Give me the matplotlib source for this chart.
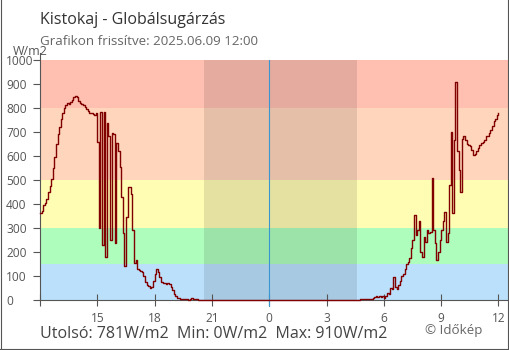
import matplotlib
matplotlib.use("Agg")
import matplotlib.pyplot as plt
from matplotlib.lines import Line2D

plt.rcParams['font.family'] = ['Open Sans', 'DejaVu Sans']

# --- data: global radiation, W/m2, 5-minute readings -----------------------
STEP_MIN = 5

afternoon_start = "12:00"
afternoon_wm2 = [
    362, 372, 395, 405, 420, 450, 475, 505, 550, 595, 650, 690,   # 12:00
    720, 755, 780, 800, 812, 820, 818, 826, 835, 845, 852, 845,   # 13:00
    830, 822, 818, 812, 805, 795, 786, 780, 778, 775, 770, 780,   # 14:00
    660, 300, 785, 229, 785, 180, 736, 685, 250, 694, 690, 236,   # 15:00
    653, 620, 556, 431, 278, 140, 347, 472, 470, 440, 292, 153,   # 16:00
    165, 130, 125, 120, 118, 100, 75, 62, 58, 50, 55, 78,         # 17:00
    110, 128, 115, 95, 76, 72, 70, 67, 70, 65, 55, 40,            # 18:00
    25, 15, 10, 8, 5, 4, 3, 3, 3, 2, 5, 10,                       # 19:00
    5, 3, 3, 2, 2, 1, 1, 0, 0,                                    # 20:00
]

morning_start = "04:40"
morning_wm2 = [
    2, 3, 3, 3,                                                   # 04:40
    3, 5, 6, 5, 6, 8, 12, 18, 14, 16, 14, 17,                     # 05:00
    10, 16, 31, 25, 50, 45, 97, 55, 45, 62, 80, 100,              # 06:00
    110, 128, 150, 160, 175, 215, 250, 354, 270, 290, 328, 200,   # 07:00
    181, 264, 240, 292, 280, 285, 507, 290, 236, 165, 201, 250,   # 08:00
    290, 330, 368, 243, 280, 480, 700, 361, 667, 910, 620, 540,   # 09:00
    451, 670, 683, 665, 650, 645, 640, 625, 604, 610, 620, 632,   # 10:00
    645, 655, 660, 665, 683, 683, 695, 710, 725, 745, 755, 770,   # 11:00
    781,                                                          # 12:00
]

x_tick_hours = [0, 3, 6, 9, 12, 15, 18, 21, 24]
x_tick_labels = ["", "15", "18", "21", "0", "3", "6", "9", "12"]
y_ticks = [0, 100, 200, 300, 400, 500, 600, 700, 800, 900, 1000]

bands = [
    (0, 150, "#bbe0fb"),
    (150, 300, "#aefdbd"),
    (300, 500, "#fffcb4"),
    (500, 800, "#ffd5bb"),
    (800, 1000, "#ffbfb1"),
]
night_from, night_to = "20:35", "04:35"

title = "Kistokaj - Globálsugárzás"
subtitle = "Grafikon frissítve: 2025.06.09 12:00"
unit = "W/m2"
summary = "Utolsó: 781W/m2  Min: 0W/m2  Max: 910W/m2"
credit = "© Időkép"


def hours_since_noon(hhmm):
    h, m = (int(p) for p in hhmm.split(":"))
    v = h + m / 60.0 - 12.0
    return v + 24.0 if v < 0 else v


def series_times(start, n):
    t0 = hours_since_noon(start)
    return [t0 + i * STEP_MIN / 60.0 for i in range(n)]


times = series_times(afternoon_start, len(afternoon_wm2)) + \
    series_times(morning_start, len(morning_wm2))
values = afternoon_wm2 + morning_wm2

# --- figure ------------------------------------------------------------------
W, H = 510, 350
fig = plt.figure(figsize=(W / 100, H / 100), dpi=100)


def fx(px):
    return px / W


def fy(py):
    return 1 - py / H


Y_TOP = 1000 * 247 / 240
ax = fig.add_axes([fx(40), fy(300), 468 / W, 247 / H])
ax.set_xlim(0, 24.5)
ax.set_ylim(0, Y_TOP)

for lo, hi, c in bands:
    ax.axhspan(lo, hi, color=c, lw=0, zorder=0)

ax.axvspan(hours_since_noon(night_from), hours_since_noon(night_to),
           ymin=0, ymax=1000 / Y_TOP, color="black", alpha=0.1, lw=0, zorder=1)

ax.axvline(12, ymin=-6 / 247, ymax=1000 / Y_TOP, color="#3a96d0", lw=0.8,
           clip_on=False, zorder=2)

ax.plot(times, values, drawstyle="steps-post", color="#800000", lw=1.0,
        clip_on=False, zorder=5)

for s in ("top", "right"):
    ax.spines[s].set_visible(False)
for s in ("left", "bottom"):
    ax.spines[s].set_color("#555555")
    ax.spines[s].set_linewidth(0.8)

ax.set_xticks(x_tick_hours)
ax.set_xticklabels(x_tick_labels)
ax.tick_params(axis="x", direction="inout", length=8.6, width=0.8,
               color="#555555", labelcolor="#555555", labelsize=8.6, pad=4)

ax.set_yticks(y_ticks)
ax.set_yticklabels([str(v) for v in y_ticks])
ax.tick_params(axis="y", direction="out", length=4.7, width=0.8,
               color="#555555", labelcolor="#555555", labelsize=8.6, pad=19.8)
for lab in ax.get_yticklabels():
    lab.set_horizontalalignment("left")

# --- texts -------------------------------------------------------------------
fig.text(fx(40), fy(24), title, fontsize=11.5, color="#333333",
         ha="left", va="baseline")
fig.text(fx(40), fy(45), subtitle, fontsize=9.6, color="#666666",
         ha="left", va="baseline")
fig.text(fx(30), fy(55), unit, fontsize=9, color="#555555",
         ha="center", va="baseline")
fig.text(fx(40), fy(338), summary, fontsize=11.5, color="#444444",
         ha="left", va="baseline")
fig.text(fx(425), fy(334), credit, fontsize=9.6, color="#666666",
         ha="left", va="baseline")

# frame around the chart
for xs, ys in (([0.5, 0.5], [0, H]), ([W - 1.5, W - 1.5], [0, H]),
               ([0, W], [H - 1.5, H - 1.5])):
    fig.add_artist(Line2D([fx(v) for v in xs], [fy(v) for v in ys],
                          color="#555555", lw=0.8))

fig.savefig("out.png", dpi=100)
